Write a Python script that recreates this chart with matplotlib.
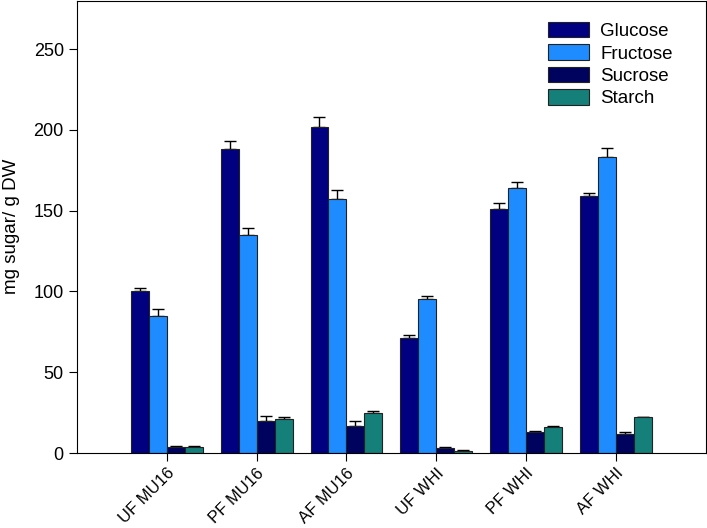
import numpy as np
import matplotlib.pyplot as plt

plt.rcParams['font.family'] = ['Liberation Sans', 'DejaVu Sans']

groups = ["UF MU16", "PF MU16", "AF MU16", "UF WHI", "PF WHI", "AF WHI"]
series = ["Glucose", "Fructose", "Sucrose", "Starch"]

glucose = [100, 188, 202, 71, 151, 159]
glucose_err = [2, 5, 6, 2, 4, 2]
fructose = [85, 135, 157, 95, 164, 183]
fructose_err = [4, 4, 6, 2, 4, 6]
sucrose = [4, 20, 17, 3, 13, 12]
sucrose_err = [0.5, 3, 3, 0.5, 0.8, 0.8]
starch = [4, 21, 25, 1.5, 16, 22]
starch_err = [0.3, 1, 1, 0.3, 0.5, 0.6]

vals = [glucose, fructose, sucrose, starch]
errs = [glucose_err, fructose_err, sucrose_err, starch_err]
colors = ["#000080", "#1e8cff", "#00035e", "#157f7a"]

fig = plt.figure(figsize=(7.07, 5.28), dpi=100)
ax = fig.add_axes([0.109, 0.142, 0.889, 0.857])

x = np.arange(len(groups))
w = 0.2
for i in range(4):
    ax.bar(x + (i - 1.5) * w, vals[i], w, color=colors[i], edgecolor="#222222",
           linewidth=0.8, label=series[i], zorder=2)
    ax.errorbar(x + (i - 1.5) * w, vals[i], yerr=[np.zeros(6), errs[i]], fmt="none",
                ecolor="black", elinewidth=1, capsize=4.5, capthick=1, zorder=1)

ax.set_xlim(-1, 6)
ax.set_ylim(0, 280)
ax.set_yticks([0, 50, 100, 150, 200, 250])
ax.set_xticks(x)
ax.set_xticklabels(groups, rotation=45, ha="right", rotation_mode="anchor")
ax.tick_params(axis="both", direction="out", length=6, labelsize=13)
ax.tick_params(axis="x", labelsize=12, pad=3)
ax.set_ylabel("mg sugar/ g DW", fontsize=13.5, labelpad=10)

ax.legend(loc="upper right", bbox_to_anchor=(0.975, 0.99), frameon=False, fontsize=13.5,
          handlelength=2.2, handleheight=0.9, labelspacing=0.22, handletextpad=0.6)

plt.savefig("out.png", dpi=100)
